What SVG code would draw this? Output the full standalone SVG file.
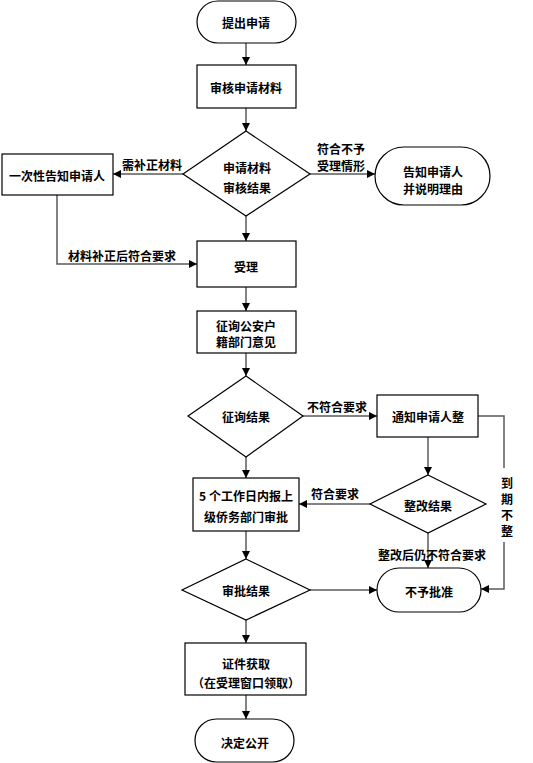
<svg xmlns="http://www.w3.org/2000/svg" width="533" height="763" viewBox="0 0 533 763">
<style>
.s{fill:#fff;stroke:#000;stroke-width:1.2}
.t{font-family:"Noto Sans CJK SC","Liberation Sans",sans-serif;font-size:12px;font-weight:bold;fill:#000;text-anchor:middle;dominant-baseline:central}
.c{fill:none;stroke:#5a5a5a;stroke-width:1.5}
</style>
<defs>
<marker id="ah" viewBox="0 0 8 8" refX="8" refY="4" markerWidth="8" markerHeight="8" markerUnits="userSpaceOnUse" orient="auto">
<path d="M0,0 L8,4 L0,8 Z" fill="#000"/>
</marker>
</defs>
<rect width="533" height="763" fill="#fff"/>
<g id="connectors">
<path class="c" d="M246,43 V65" marker-end="url(#ah)"/>
<path class="c" d="M246,108 V131" marker-end="url(#ah)"/>
<path class="c" d="M183,174 H113" marker-end="url(#ah)"/>
<path class="c" d="M310,174 H375" marker-end="url(#ah)"/>
<path class="c" d="M246,216 V241" marker-end="url(#ah)"/>
<path class="c" d="M57,195 V264 H197" marker-end="url(#ah)"/>
<path class="c" d="M246,287 V311" marker-end="url(#ah)"/>
<path class="c" d="M246,353 V376" marker-end="url(#ah)"/>
<path class="c" d="M303,416 H377" marker-end="url(#ah)"/>
<path class="c" d="M246,457 V478" marker-end="url(#ah)"/>
<path class="c" d="M428,437 V475" marker-end="url(#ah)"/>
<path class="c" d="M370,504 H299" marker-end="url(#ah)"/>
<path class="c" d="M428,533 V568" marker-end="url(#ah)"/>
<path class="c" d="M478,416 H504 V468 M504,542 V589 H481" marker-end="url(#ah)"/>
<path class="c" d="M246,531 V559" marker-end="url(#ah)"/>
<path class="c" d="M310,590 H377" marker-end="url(#ah)"/>
<path class="c" d="M246,620 V643" marker-end="url(#ah)"/>
<path class="c" d="M246,695 V719" marker-end="url(#ah)"/>
<text class="t" x="152" y="164">需补正材料</text>
<text class="t" x="341" y="148">符合不予</text>
<text class="t" x="341" y="165">受理情形</text>
<text class="t" x="122" y="255">材料补正后符合要求</text>
<text class="t" x="337" y="406">不符合要求</text>
<text class="t" x="335" y="493">符合要求</text>
<text class="t" x="432" y="554">整改后仍不符合要求</text>
<text class="t" x="507" y="482">到</text>
<text class="t" x="507" y="498">期</text>
<text class="t" x="507" y="514">不</text>
<text class="t" x="507" y="530">整</text>
</g>
<g id="start"><rect class="s" x="197" y="1" width="99" height="42" rx="21"/><text class="t" x="246" y="22">提出申请</text></g>
<g id="review"><rect class="s" x="197" y="65" width="99" height="43"/><text class="t" x="246" y="87">审核申请材料</text></g>
<g id="d1"><polygon class="s" points="246,131 310,174 246,216 183,174"/><text class="t" x="247" y="167">申请材料</text><text class="t" x="247" y="187">审核结果</text></g>
<g id="notify-once"><rect class="s" x="2" y="154" width="111" height="41"/><text class="t" x="57" y="175">一次性告知申请人</text></g>
<g id="notify-reason"><rect class="s" x="375" y="147" width="115" height="58" rx="29"/><text class="t" x="433" y="171">告知申请人</text><text class="t" x="433" y="188">并说明理由</text></g>
<g id="accept"><rect class="s" x="197" y="241" width="99" height="46"/><text class="t" x="246" y="266">受理</text></g>
<g id="consult"><rect class="s" x="197" y="311" width="99" height="42"/><text class="t" x="246" y="325">征询公安户</text><text class="t" x="246" y="341">籍部门意见</text></g>
<g id="d2"><polygon class="s" points="246,376 303,416 246,457 188,416"/><text class="t" x="246" y="416">征询结果</text></g>
<g id="rectify"><rect class="s" x="377" y="395" width="101" height="42"/><text class="t" x="428" y="416">通知申请人整</text></g>
<g id="d3"><polygon class="s" points="428,475 486,504 428,533 370,504"/><text class="t" x="428" y="505">整改结果</text></g>
<g id="report"><rect class="s" x="193" y="478" width="106" height="53"/><text class="t" x="246" y="495">5 个工作日内报上</text><text class="t" x="246" y="516">级侨务部门审批</text></g>
<g id="d4"><polygon class="s" points="246,559 310,590 246,620 182,590"/><text class="t" x="246" y="590">审批结果</text></g>
<g id="reject"><rect class="s" x="377" y="568" width="104" height="44" rx="22"/><text class="t" x="429" y="591">不予批准</text></g>
<g id="obtain"><rect class="s" x="185" y="643" width="121" height="52"/><text class="t" x="246" y="663">证件获取</text><text class="t" x="246" y="682">（在受理窗口领取）</text></g>
<g id="end"><rect class="s" x="195" y="719" width="99" height="43" rx="21.5"/><text class="t" x="245" y="742">决定公开</text></g>
</svg>
